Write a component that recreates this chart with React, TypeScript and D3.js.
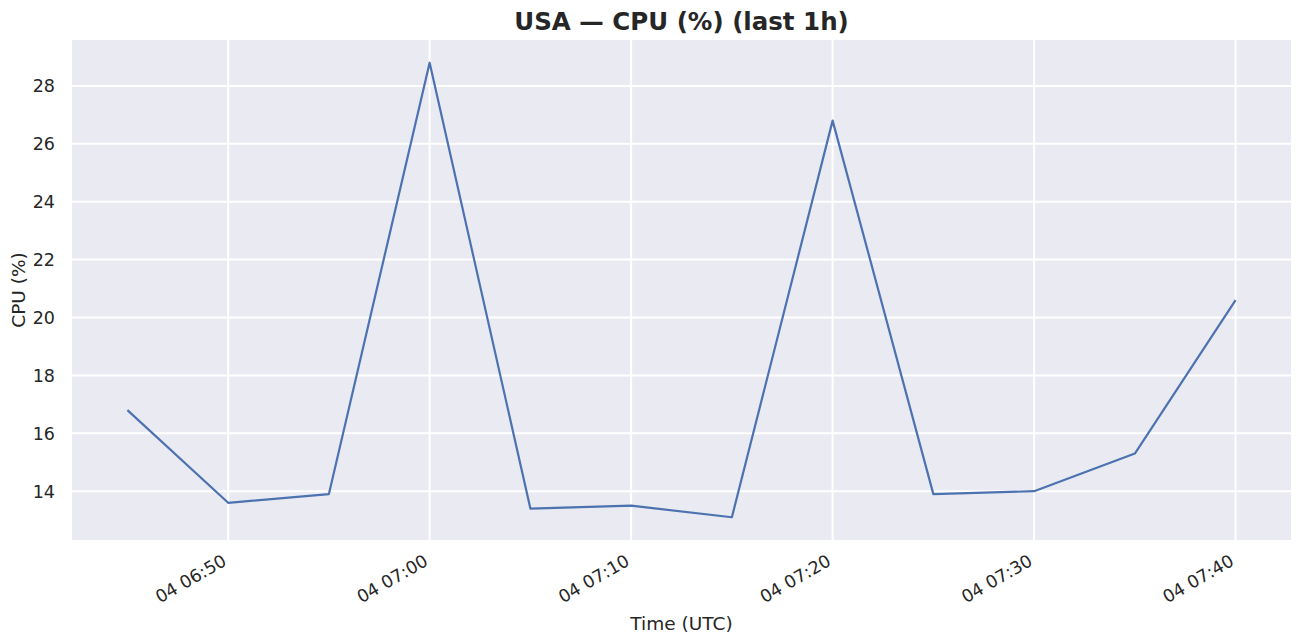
import * as d3 from "d3";
import { useEffect, useRef } from "react";

// sample times (UTC, every 5 minutes) and CPU values
const times = [
	"06:45", "06:50", "06:55", "07:00", "07:05", "07:10",
	"07:15", "07:20", "07:25", "07:30", "07:35", "07:40",
];
const cpu = [16.8, 13.6, 13.9, 28.8, 13.4, 13.5, 13.1, 26.8, 13.9, 14.0, 15.3, 20.6];
const yTicks = [14, 16, 18, 20, 22, 24, 26, 28];
const xTickLabels = ["06:50", "07:00", "07:10", "07:20", "07:30", "07:40"];

const day = "2024-01-04";
const toDate = (t: string) => new Date(`${day}T${t}:00Z`);

const W = 1303;
const H = 644;

const App = () => {
	const svgRef = useRef<SVGSVGElement>(null);

	useEffect(() => {
		if (!svgRef.current) return;
		const margin = { top: 40, left: 72, right: 12, bottom: 104 };
		const font = "'DejaVu Sans', sans-serif";
		const ink = "#262626";

		const svg = d3.select(svgRef.current);
		svg.selectAll("*").remove();

		const data = times.map((t, i) => ({ date: toDate(t), value: cpu[i] }));

		// marges de 5 % comme matplotlib
		const xExt = d3.extent(data, (d) => d.date.getTime()) as [number, number];
		const xPad = (xExt[1] - xExt[0]) * 0.05;
		const yExt = d3.extent(data, (d) => d.value) as [number, number];
		const yPad = (yExt[1] - yExt[0]) * 0.05;

		const x = d3
			.scaleUtc()
			.domain([new Date(xExt[0] - xPad), new Date(xExt[1] + xPad)])
			.range([margin.left, W - margin.right]);
		const y = d3
			.scaleLinear()
			.domain([yExt[0] - yPad, yExt[1] + yPad])
			.range([H - margin.bottom, margin.top]);

		// fond du graphique
		svg
			.append("rect")
			.attr("x", margin.left)
			.attr("y", margin.top)
			.attr("width", W - margin.left - margin.right)
			.attr("height", H - margin.top - margin.bottom)
			.attr("fill", "#EAEAF2");

		// grille horizontale
		svg
			.append("g")
			.selectAll("line")
			.data(yTicks)
			.enter()
			.append("line")
			.attr("x1", margin.left)
			.attr("x2", W - margin.right)
			.attr("y1", (d) => y(d))
			.attr("y2", (d) => y(d))
			.attr("stroke", "#fff")
			.attr("stroke-width", 2);

		// grille verticale
		const xTicks = xTickLabels.map(toDate);
		svg
			.append("g")
			.selectAll("line")
			.data(xTicks)
			.enter()
			.append("line")
			.attr("x1", (d) => x(d))
			.attr("x2", (d) => x(d))
			.attr("y1", margin.top)
			.attr("y2", H - margin.bottom)
			.attr("stroke", "#fff")
			.attr("stroke-width", 2);

		// ligne de données
		const line = d3
			.line<{ date: Date; value: number }>()
			.x((d) => x(d.date))
			.y((d) => y(d.value));
		svg
			.append("path")
			.datum(data)
			.attr("d", line)
			.attr("fill", "none")
			.attr("stroke", "#4C72B0")
			.attr("stroke-width", 2.2)
			.attr("stroke-linejoin", "round");

		// étiquettes de l'axe y
		svg
			.append("g")
			.selectAll("text")
			.data(yTicks)
			.enter()
			.append("text")
			.attr("x", margin.left - 17)
			.attr("y", (d) => y(d))
			.attr("dy", "0.36em")
			.attr("text-anchor", "end")
			.attr("font-family", font)
			.attr("font-size", 17.5)
			.attr("fill", ink)
			.text((d) => d);

		// étiquettes de l'axe x (inclinées)
		const fmt = d3.utcFormat("%d %H:%M");
		svg
			.append("g")
			.selectAll("text")
			.data(xTicks)
			.enter()
			.append("text")
			.attr(
				"transform",
				(d) => `translate(${x(d) - 7}, ${H - margin.bottom + 13}) rotate(-30)`
			)
			.attr("dy", "0.75em")
			.attr("text-anchor", "end")
			.attr("font-family", font)
			.attr("font-size", 17.5)
			.attr("fill", ink)
			.text((d) => fmt(d));

		// titres
		svg
			.append("text")
			.attr("x", (margin.left + W - margin.right) / 2)
			.attr("y", 30)
			.attr("text-anchor", "middle")
			.attr("font-family", font)
			.attr("font-size", 24.5)
			.attr("font-weight", "bold")
			.attr("fill", ink)
			.text("USA — CPU (%) (last 1h)");

		svg
			.append("text")
			.attr("x", (margin.left + W - margin.right) / 2)
			.attr("y", 630)
			.attr("text-anchor", "middle")
			.attr("font-family", font)
			.attr("font-size", 18.5)
			.attr("fill", ink)
			.text("Time (UTC)");

		svg
			.append("text")
			.attr("transform", `translate(25, ${(margin.top + H - margin.bottom) / 2}) rotate(-90)`)
			.attr("text-anchor", "middle")
			.attr("font-family", font)
			.attr("font-size", 18.5)
			.attr("fill", ink)
			.text("CPU (%)");
	}, []);

	return (
		<svg
			ref={svgRef}
			width={W}
			height={H}
			style={{ position: "absolute", left: 0, top: 0, background: "#fff" }}
		/>
	);
};

export default App;
